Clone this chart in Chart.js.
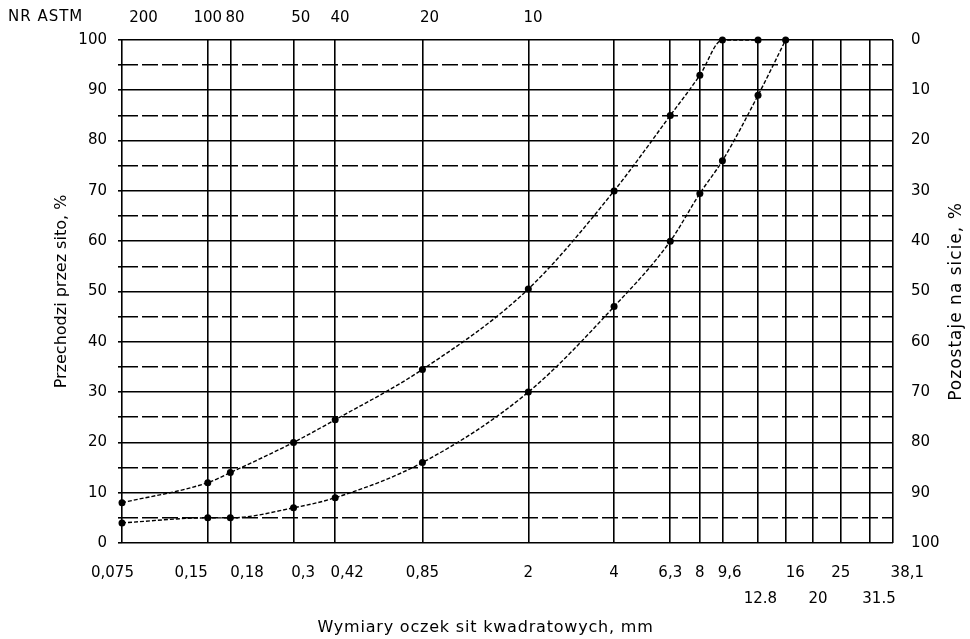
<!DOCTYPE html>
<html><head><meta charset="utf-8">
<script src="https://cdn.jsdelivr.net/npm/chart.js@4.4.1/dist/chart.umd.min.js"></script>
<style>html,body{margin:0;padding:0;background:#fff;}#wrap{width:970px;height:639px;}</style>
</head><body><div id="wrap"><canvas id="c" width="970" height="639"></canvas></div>
<script>
// ---- data ----
const sieveSizes = [0.075, 0.15, 0.18, 0.3, 0.42, 0.85, 2, 4, 6.3, 8, 9.6, 12.8, 16, 20, 25, 31.5, 38.1];
const sieveLabels = ['0,075', '0,15', '0,18', '0,3', '0,42', '0,85', '2', '4', '6,3', '8', '9,6', '12.8', '16', '20', '25', '31.5', '38,1'];
const secondRowLabels = ['12.8', '20', '31.5'];
const astmSizes = [0.075, 0.15, 0.18, 0.3, 0.42, 0.85, 2];
const astmLabels = ['200', '100', '80', '50', '40', '20', '10'];
// % passing at sieveSizes[0..n]
const upperCurve = [8, 12, 14, 20, 24.5, 34.5, 50.5, 70, 85, 93, 100, 100];
const lowerCurve = [4, 5, 5, 7, 9, 16, 30, 47, 60, 69.5, 76, 89, 100];
const yTitle = 'Przechodzi przez sito, %';
const y2Title = 'Pozostaje na sicie, %';
const xTitle = 'Wymiary oczek sit kwadratowych, mm';
const topTitle = 'NR ASTM';

// ---- styling helpers ----
const FONT = '"DejaVu Sans", "Liberation Sans", sans-serif';
const bottomNudge = {'0,075': -4, '0,15': -7, '0,18': 7, '0,3': 4, '0,42': 5, '9,6': 3, '16': 4, '38,1': 6, '12.8': 1, '20': 2, '31.5': 4};
const topNudge = {'200': 9, '80': 2, '50': 3, '40': 2, '20': 3, '10': 2};
function nudge(label, n) {
  if (!n) return label;
  return n > 0 ? ' '.repeat(n) + label : label + ' '.repeat(-n);
}
const toPts = arr => arr.map((v, i) => ({x: sieveSizes[i], y: v}));

const extraText = {
  id: 'extraText',
  afterDraw(chart) {
    const {ctx, chartArea: a} = chart;
    ctx.save();
    ctx.fillStyle = '#000';
    ctx.textBaseline = 'middle';
    ctx.font = '15px ' + FONT;
    ctx.textAlign = 'left';
    ctx.letterSpacing = '1px';
    ctx.fillText(topTitle, 8, a.top - 23);
    ctx.font = '16px ' + FONT;
    ctx.letterSpacing = '0.8px';
    ctx.textAlign = 'center';
    ctx.fillText(xTitle, (a.left + a.right) / 2 - 22, a.bottom + 85);
    ctx.translate(a.right + 64, (a.top + a.bottom) / 2 + 10);
    ctx.rotate(-Math.PI / 2);
    ctx.font = '17px ' + FONT;
    ctx.letterSpacing = '1px';
    ctx.fillText(y2Title, 0, 0);
    ctx.restore();
  }
};

const curveStyle = {
  showLine: true,
  borderColor: '#000',
  borderWidth: 1.4,
  borderDash: [4, 2],
  pointRadius: 3.5,
  pointBackgroundColor: '#000',
  pointBorderWidth: 0,
  cubicInterpolationMode: 'monotone',
  clip: false
};

new Chart(document.getElementById('c'), {
  type: 'scatter',
  data: {
    datasets: [
      Object.assign({label: 'górna', data: toPts(upperCurve)}, curveStyle),
      Object.assign({label: 'dolna', data: toPts(lowerCurve)}, curveStyle)
    ]
  },
  options: {
    responsive: false,
    animation: false,
    layout: {padding: 0},
    plugins: {legend: {display: false}, tooltip: {enabled: false}},
    scales: {
      x: {
        type: 'logarithmic', position: 'bottom', min: 0.075, max: 38.1,
        afterBuildTicks: s => { s.ticks = sieveSizes.map(v => ({value: v})); },
        afterFit: s => { s.height = 96; },
        grid: {color: '#000', lineWidth: 1.6, drawTicks: false},
        border: {display: false},
        ticks: {
          autoSkip: false, maxRotation: 0, minRotation: 0, padding: 17, color: '#000',
          font: {family: FONT, size: 15, lineHeight: 1.75},
          callback: (v, i) => {
            const l = sieveLabels[i];
            const t = nudge(l, bottomNudge[l]);
            return secondRowLabels.includes(l) ? ['', t] : t;
          }
        }
      },
      x2: {
        type: 'logarithmic', position: 'top', min: 0.075, max: 38.1,
        afterBuildTicks: s => { s.ticks = astmSizes.map(v => ({value: v})); },
        afterFit: s => { s.height = 40; },
        grid: {display: false, drawTicks: false},
        border: {display: false},
        ticks: {
          autoSkip: false, maxRotation: 0, minRotation: 0, padding: 13, color: '#000',
          font: {family: FONT, size: 15},
          callback: (v, i) => nudge(astmLabels[i], topNudge[astmLabels[i]])
        }
      },
      y: {
        position: 'left', min: 0, max: 100,
        afterFit: s => { s.width = 122; },
        grid: {color: '#000', lineWidth: 1.6, tickLength: 4, drawTicks: true},
        border: {display: false, dash: c => (c.tick && c.tick.value % 10 !== 0) ? [16, 4] : []},
        title: {display: true, text: yTitle, color: '#000', font: {family: FONT, size: 16}, padding: {top: 52, bottom: 0}},
        ticks: {
          stepSize: 5, autoSkip: false, padding: 11, color: '#000',
          font: {family: FONT, size: 15},
          callback: v => (v % 10 === 0 ? String(v) : '')
        }
      },
      y2: {
        position: 'right', min: 0, max: 100, reverse: true,
        afterFit: s => { s.width = 77; },
        grid: {display: false, drawTicks: false},
        border: {display: false},
        ticks: {stepSize: 10, autoSkip: false, padding: 18, color: '#000', font: {family: FONT, size: 15}}
      }
    }
  },
  plugins: [extraText]
});
</script>
</body></html>
